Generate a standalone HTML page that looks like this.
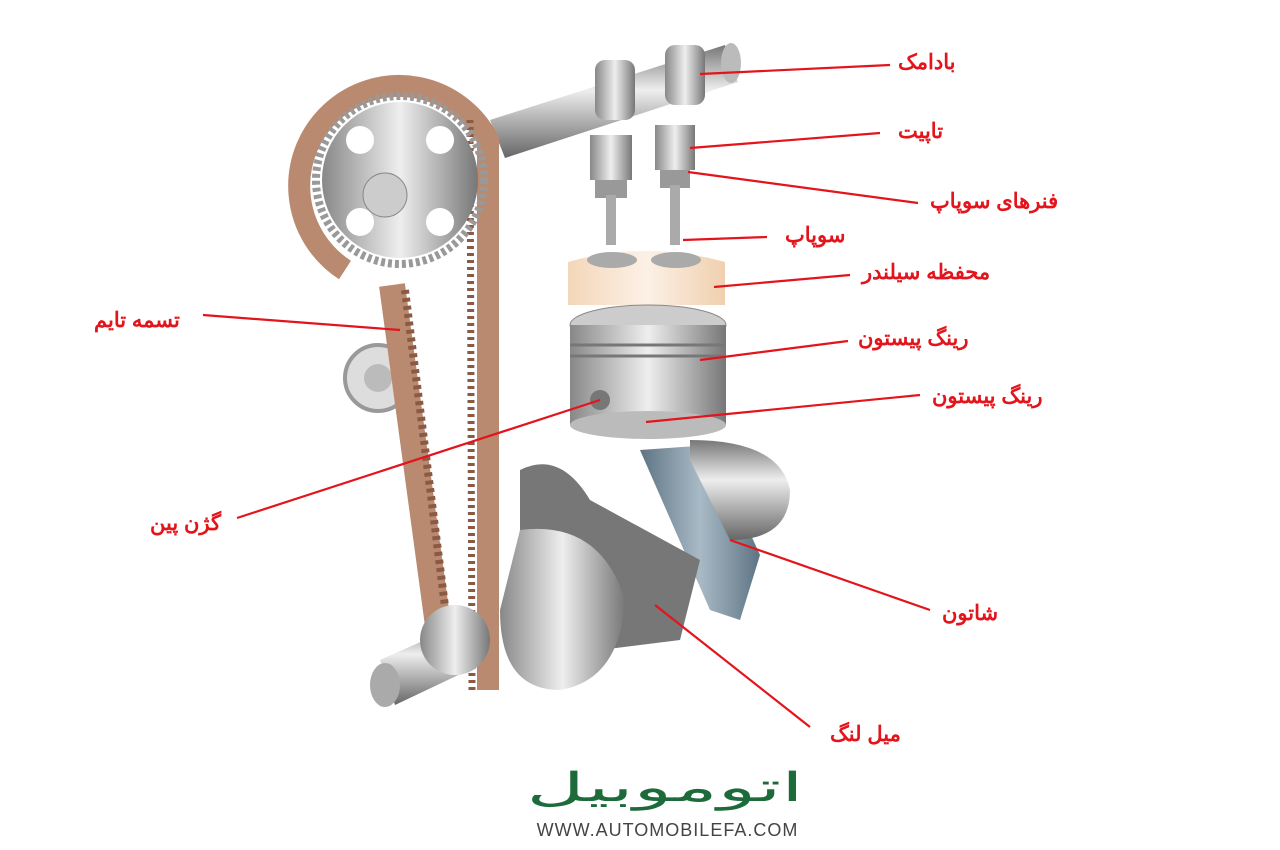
<!DOCTYPE html>
<html><head><meta charset="utf-8"><style>
body{margin:0;background:#fff;width:1280px;height:850px;overflow:hidden;position:relative;font-family:"Liberation Sans","Noto Sans CJK SC",sans-serif}
.l{position:absolute;color:#e3141b;font-weight:bold;font-size:21px;direction:rtl;white-space:nowrap;line-height:1}
</style></head><body>
<svg width="1280" height="850" style="position:absolute;left:0;top:0">
<defs>
<linearGradient id="m" x1="0" y1="0" x2="0" y2="1"><stop offset="0" stop-color="#777"/><stop offset=".4" stop-color="#eee"/><stop offset="1" stop-color="#666"/></linearGradient>
<linearGradient id="mh" x1="0" y1="0" x2="1" y2="0"><stop offset="0" stop-color="#888"/><stop offset=".5" stop-color="#eee"/><stop offset="1" stop-color="#777"/></linearGradient>
<linearGradient id="cyl" x1="0" y1="0" x2="1" y2="0"><stop offset="0" stop-color="#f3d6b8"/><stop offset=".5" stop-color="#fcf1e6"/><stop offset="1" stop-color="#f0cfae"/></linearGradient>
<linearGradient id="rod" x1="0" y1="0" x2="1" y2="0"><stop offset="0" stop-color="#5e7483"/><stop offset=".5" stop-color="#a9bac6"/><stop offset="1" stop-color="#5e7483"/></linearGradient>
</defs>
<!-- camshaft -->
<path d="M490 120 L725 45 L738 82 L505 158 Z" fill="url(#m)"/>
<ellipse cx="731" cy="63" rx="10" ry="20" fill="#bbb"/>
<rect x="595" y="60" width="40" height="60" rx="10" fill="url(#mh)"/>
<rect x="665" y="45" width="40" height="60" rx="10" fill="url(#mh)"/>
<!-- tappets & springs -->
<rect x="590" y="135" width="42" height="45" fill="url(#mh)"/>
<rect x="655" y="125" width="40" height="45" fill="url(#mh)"/>
<rect x="595" y="180" width="32" height="18" fill="#999"/><rect x="660" y="170" width="30" height="18" fill="#999"/>
<rect x="606" y="195" width="10" height="50" fill="#aaa"/><rect x="670" y="185" width="10" height="60" fill="#aaa"/>
<!-- cylinder -->
<path d="M568 262 Q645 240 725 262 L725 305 L568 305 Z" fill="url(#cyl)"/>
<ellipse cx="612" cy="260" rx="25" ry="8" fill="#aaa"/><ellipse cx="676" cy="260" rx="25" ry="8" fill="#aaa"/>
<!-- piston -->
<ellipse cx="648" cy="325" rx="78" ry="20" fill="#ccc" stroke="#888"/>
<rect x="570" y="325" width="156" height="100" fill="url(#mh)"/>
<ellipse cx="648" cy="425" rx="78" ry="14" fill="#bbb"/>
<line x1="570" y1="345" x2="726" y2="345" stroke="#777" stroke-width="3"/>
<line x1="570" y1="356" x2="726" y2="356" stroke="#777" stroke-width="3"/>
<circle cx="600" cy="400" r="10" fill="#777"/>
<!-- crank -->
<path d="M640 450 L710 445 L760 555 L740 620 L710 610 Z" fill="url(#rod)"/>
<path d="M690 440 Q780 440 790 490 Q790 540 730 540 L690 460 Z" fill="url(#m)"/>
<path d="M520 470 Q560 450 590 500 L700 560 L680 640 L600 650 L520 560 Z" fill="#777"/>
<path d="M520 530 Q600 520 625 600 Q620 680 560 690 Q500 690 500 610 Z" fill="url(#mh)"/>
<path d="M380 660 L470 620 L490 660 L395 705 Z" fill="url(#m)"/>
<ellipse cx="385" cy="685" rx="15" ry="22" fill="#aaa"/>
<!-- tensioner -->
<circle cx="378" cy="378" r="33" fill="#ddd" stroke="#999" stroke-width="4"/>
<circle cx="378" cy="378" r="14" fill="#bbb"/>
<!-- belt -->
<path d="M345 270 A 100 100 0 1 1 488 140 L 488 690" fill="none" stroke="#b98a70" stroke-width="22"/>
<path d="M470 120 L472 690" stroke="#8a5a45" stroke-width="7" stroke-dasharray="3 4"/>
<path d="M392 285 L440 640" fill="none" stroke="#b98a70" stroke-width="26"/>
<path d="M405 290 L448 630" fill="none" stroke="#8a5a45" stroke-width="8" stroke-dasharray="4 4"/>
<!-- gear -->
<circle cx="400" cy="180" r="84" fill="none" stroke="#999" stroke-width="8" stroke-dasharray="4 3"/>
<circle cx="400" cy="180" r="78" fill="url(#mh)"/>
<circle cx="360" cy="140" r="14" fill="#fff"/><circle cx="440" cy="140" r="14" fill="#fff"/>
<circle cx="360" cy="222" r="14" fill="#fff"/><circle cx="440" cy="222" r="14" fill="#fff"/>
<circle cx="385" cy="195" r="22" fill="#ccc" stroke="#888"/>
<circle cx="455" cy="640" r="35" fill="url(#mh)"/>
<!-- leader lines -->
<g stroke="#e3141b" stroke-width="2.2">
<line x1="890" y1="65" x2="700" y2="74"/>
<line x1="880" y1="133" x2="690" y2="148"/>
<line x1="918" y1="203" x2="688" y2="172"/>
<line x1="767" y1="237" x2="683" y2="240"/>
<line x1="850" y1="275" x2="714" y2="287"/>
<line x1="848" y1="341" x2="700" y2="360"/>
<line x1="920" y1="395" x2="646" y2="422"/>
<line x1="203" y1="315" x2="400" y2="330"/>
<line x1="237" y1="518" x2="600" y2="400"/>
<line x1="930" y1="610" x2="730" y2="540"/>
<line x1="810" y1="727" x2="655" y2="605"/>
</g>
</svg>
<div class="l" style="left:898px;top:52px">بادامک</div>
<div class="l" style="left:898px;top:121px">تاپیت</div>
<div class="l" style="left:930px;top:191px">فنرهای سوپاپ</div>
<div class="l" style="left:785px;top:225px">سوپاپ</div>
<div class="l" style="left:862px;top:262px">محفظه سیلندر</div>
<div class="l" style="left:858px;top:328px">رینگ پیستون</div>
<div class="l" style="left:932px;top:386px">رینگ پیستون</div>
<div class="l" style="left:94px;top:310px">تسمه تایم</div>
<div class="l" style="left:150px;top:513px">گژن پین</div>
<div class="l" style="left:942px;top:603px">شاتون</div>
<div class="l" style="left:830px;top:724px">میل لنگ</div>
<div style="position:absolute;left:520px;top:768px;width:290px;text-align:center;color:#1d6b3a;font-size:40px;line-height:1;direction:rtl;transform:scaleX(2)">اتوموبیل</div>
<div style="position:absolute;left:525px;top:820px;width:285px;text-align:center;color:#444;font-size:18px;letter-spacing:1px">WWW.AUTOMOBILEFA.COM</div>
</body></html>
